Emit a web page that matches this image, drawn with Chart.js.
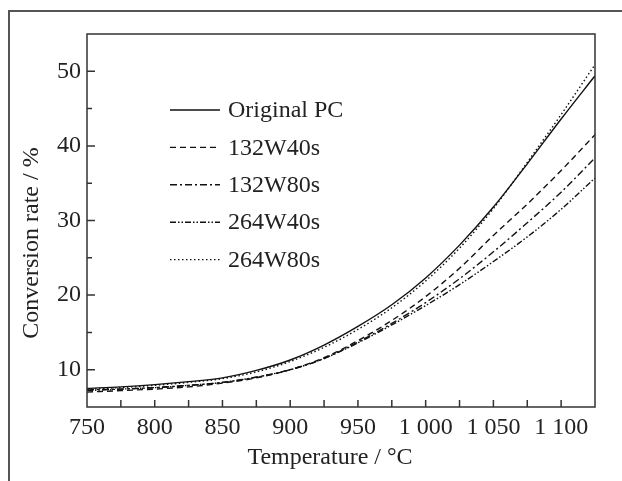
<!DOCTYPE html>
<html>
<head>
  <meta charset="utf-8">
  <title>Conversion rate vs temperature</title>
  <script src="https://cdn.jsdelivr.net/npm/chart.js"></script>
  <style>
    body { margin: 0; background: #fff; }
    .chart-container { width: 622px; height: 481px; }
  </style>
</head>
<body>
  <div class="chart-container">
    <canvas id="convChart"></canvas>
  </div>

  <script>
    // temperature (°C) and conversion rate (%)
    const temps = [750, 775, 800, 825, 850, 875, 900, 925, 950, 975, 1000, 1025, 1050, 1075, 1100, 1125];
    const originalPC = [7.5, 7.7, 8.0, 8.4, 8.9, 9.9, 11.3, 13.3, 15.8, 18.7, 22.3, 26.7, 31.8, 37.6, 43.6, 49.4];
    const w132s40 = [7.0, 7.2, 7.4, 7.7, 8.2, 8.9, 10.0, 11.6, 13.9, 16.6, 19.8, 23.6, 28.0, 32.2, 36.7, 41.5];
    const w132s80 = [7.3, 7.4, 7.6, 7.9, 8.3, 9.0, 10.0, 11.5, 13.7, 16.2, 19.0, 22.2, 25.8, 29.7, 33.8, 38.4];
    const w264s40 = [7.2, 7.4, 7.6, 7.9, 8.3, 9.0, 10.0, 11.5, 13.6, 16.0, 18.6, 21.4, 24.5, 27.8, 31.5, 35.7];
    const w264s80 = [7.4, 7.6, 7.9, 8.3, 8.8, 9.7, 11.1, 13.0, 15.4, 18.3, 21.9, 26.3, 31.6, 37.8, 44.2, 50.9];

    const seriesNames = ['Original PC', '132W40s', '132W80s', '264W40s', '264W80s'];
    const xTicks = [750, 800, 850, 900, 950, 1000, 1050, 1100];
    const yTicks = [10, 20, 30, 40, 50];

    const serif = "'Liberation Serif', 'Times New Roman', serif";

    function pts(ys) {
      return temps.map((t, i) => ({ x: t, y: ys[i] }));
    }

    // frame, inward ticks, axis titles and the in-plot legend
    const decorPlugin = {
      id: 'decor',
      beforeDraw(chart) {
        const ctx = chart.ctx;
        ctx.save();
        ctx.strokeStyle = '#555';
        ctx.lineWidth = 2;
        ctx.beginPath();
        ctx.moveTo(9, 481);
        ctx.lineTo(9, 11);
        ctx.lineTo(622, 11);
        ctx.stroke();
        ctx.restore();
      },
      afterDatasetsDraw(chart) {
        const ctx = chart.ctx;
        const a = chart.chartArea;
        const xs = chart.scales.x, ys = chart.scales.y;
        ctx.save();
        ctx.strokeStyle = '#333';
        ctx.lineWidth = 1.5;
        ctx.strokeRect(a.left, a.top, a.right - a.left, a.bottom - a.top);

        ctx.beginPath();
        for (let t = 775; t < 1125; t += 25) {
          const px = xs.getPixelForValue(t);
          ctx.moveTo(px, a.bottom);
          ctx.lineTo(px, a.bottom - 7);
        }
        for (let v = 10; v < 55; v += 5) {
          const py = ys.getPixelForValue(v);
          const len = yTicks.includes(v) ? 8 : 5;
          ctx.moveTo(a.left, py);
          ctx.lineTo(a.left + len, py);
        }
        ctx.stroke();

        // axis titles
        ctx.fillStyle = '#222';
        ctx.font = '24px ' + serif;
        ctx.textAlign = 'center';
        ctx.textBaseline = 'middle';
        ctx.fillText('Temperature / \u00B0C', 330, 458);
        ctx.translate(32, 243);
        ctx.rotate(-Math.PI / 2);
        ctx.fillText('Conversion rate / %', 0, 0);
        ctx.restore();

        // legend
        ctx.save();
        ctx.font = '24px ' + serif;
        ctx.textAlign = 'left';
        ctx.textBaseline = 'middle';
        chart.data.datasets.forEach((ds, i) => {
          const y = 110 + i * 37.4;
          ctx.strokeStyle = ds.borderColor;
          ctx.lineWidth = ds.borderWidth;
          ctx.setLineDash(ds.borderDash || []);
          ctx.beginPath();
          ctx.moveTo(170, y);
          ctx.lineTo(220, y);
          ctx.stroke();
          ctx.setLineDash([]);
          ctx.fillStyle = '#222';
          ctx.fillText(ds.label, 228, y + 1);
        });
        ctx.restore();
      }
    };

    const dashes = [[], [6, 4], [7, 3, 2, 3], [6, 2, 1.5, 2, 1.5, 2], [1.5, 2.5]];
    const values = [originalPC, w132s40, w132s80, w264s40, w264s80];

    const ctx = document.getElementById('convChart').getContext('2d');
    const convChart = new Chart(ctx, {
      type: 'line',
      data: {
        datasets: values.map((v, i) => ({
          label: seriesNames[i],
          data: pts(v),
          borderColor: '#111',
          borderWidth: 1.4,
          borderDash: dashes[i],
          pointRadius: 0,
          fill: false,
          cubicInterpolationMode: 'monotone'
        }))
      },
      options: {
        responsive: true,
        maintainAspectRatio: false,
        animation: false,
        layout: { padding: { top: 34, right: 27, left: 0, bottom: 0 } },
        plugins: {
          legend: { display: false },
          tooltip: { enabled: false }
        },
        scales: {
          x: {
            type: 'linear',
            min: 750,
            max: 1125,
            afterFit(scale) { scale.height = 74; },
            afterBuildTicks(scale) { scale.ticks = xTicks.map(v => ({ value: v })); },
            grid: { display: false, drawTicks: false },
            border: { display: false },
            ticks: {
              padding: 6,
              color: '#222',
              font: { family: serif, size: 24 },
              maxRotation: 0,
              autoSkip: false,
              callback: v => v >= 1000 ? '1 ' + String(v % 1000).padStart(3, '0') : String(v)
            }
          },
          y: {
            type: 'linear',
            min: 5,
            max: 55,
            afterFit(scale) { scale.width = 87; },
            afterBuildTicks(scale) { scale.ticks = yTicks.map(v => ({ value: v })); },
            grid: { display: false, drawTicks: false },
            border: { display: false },
            ticks: {
              padding: 6,
              color: '#222',
              font: { family: serif, size: 24 }
            }
          }
        }
      },
      plugins: [decorPlugin]
    });
  </script>
</body>
</html>
